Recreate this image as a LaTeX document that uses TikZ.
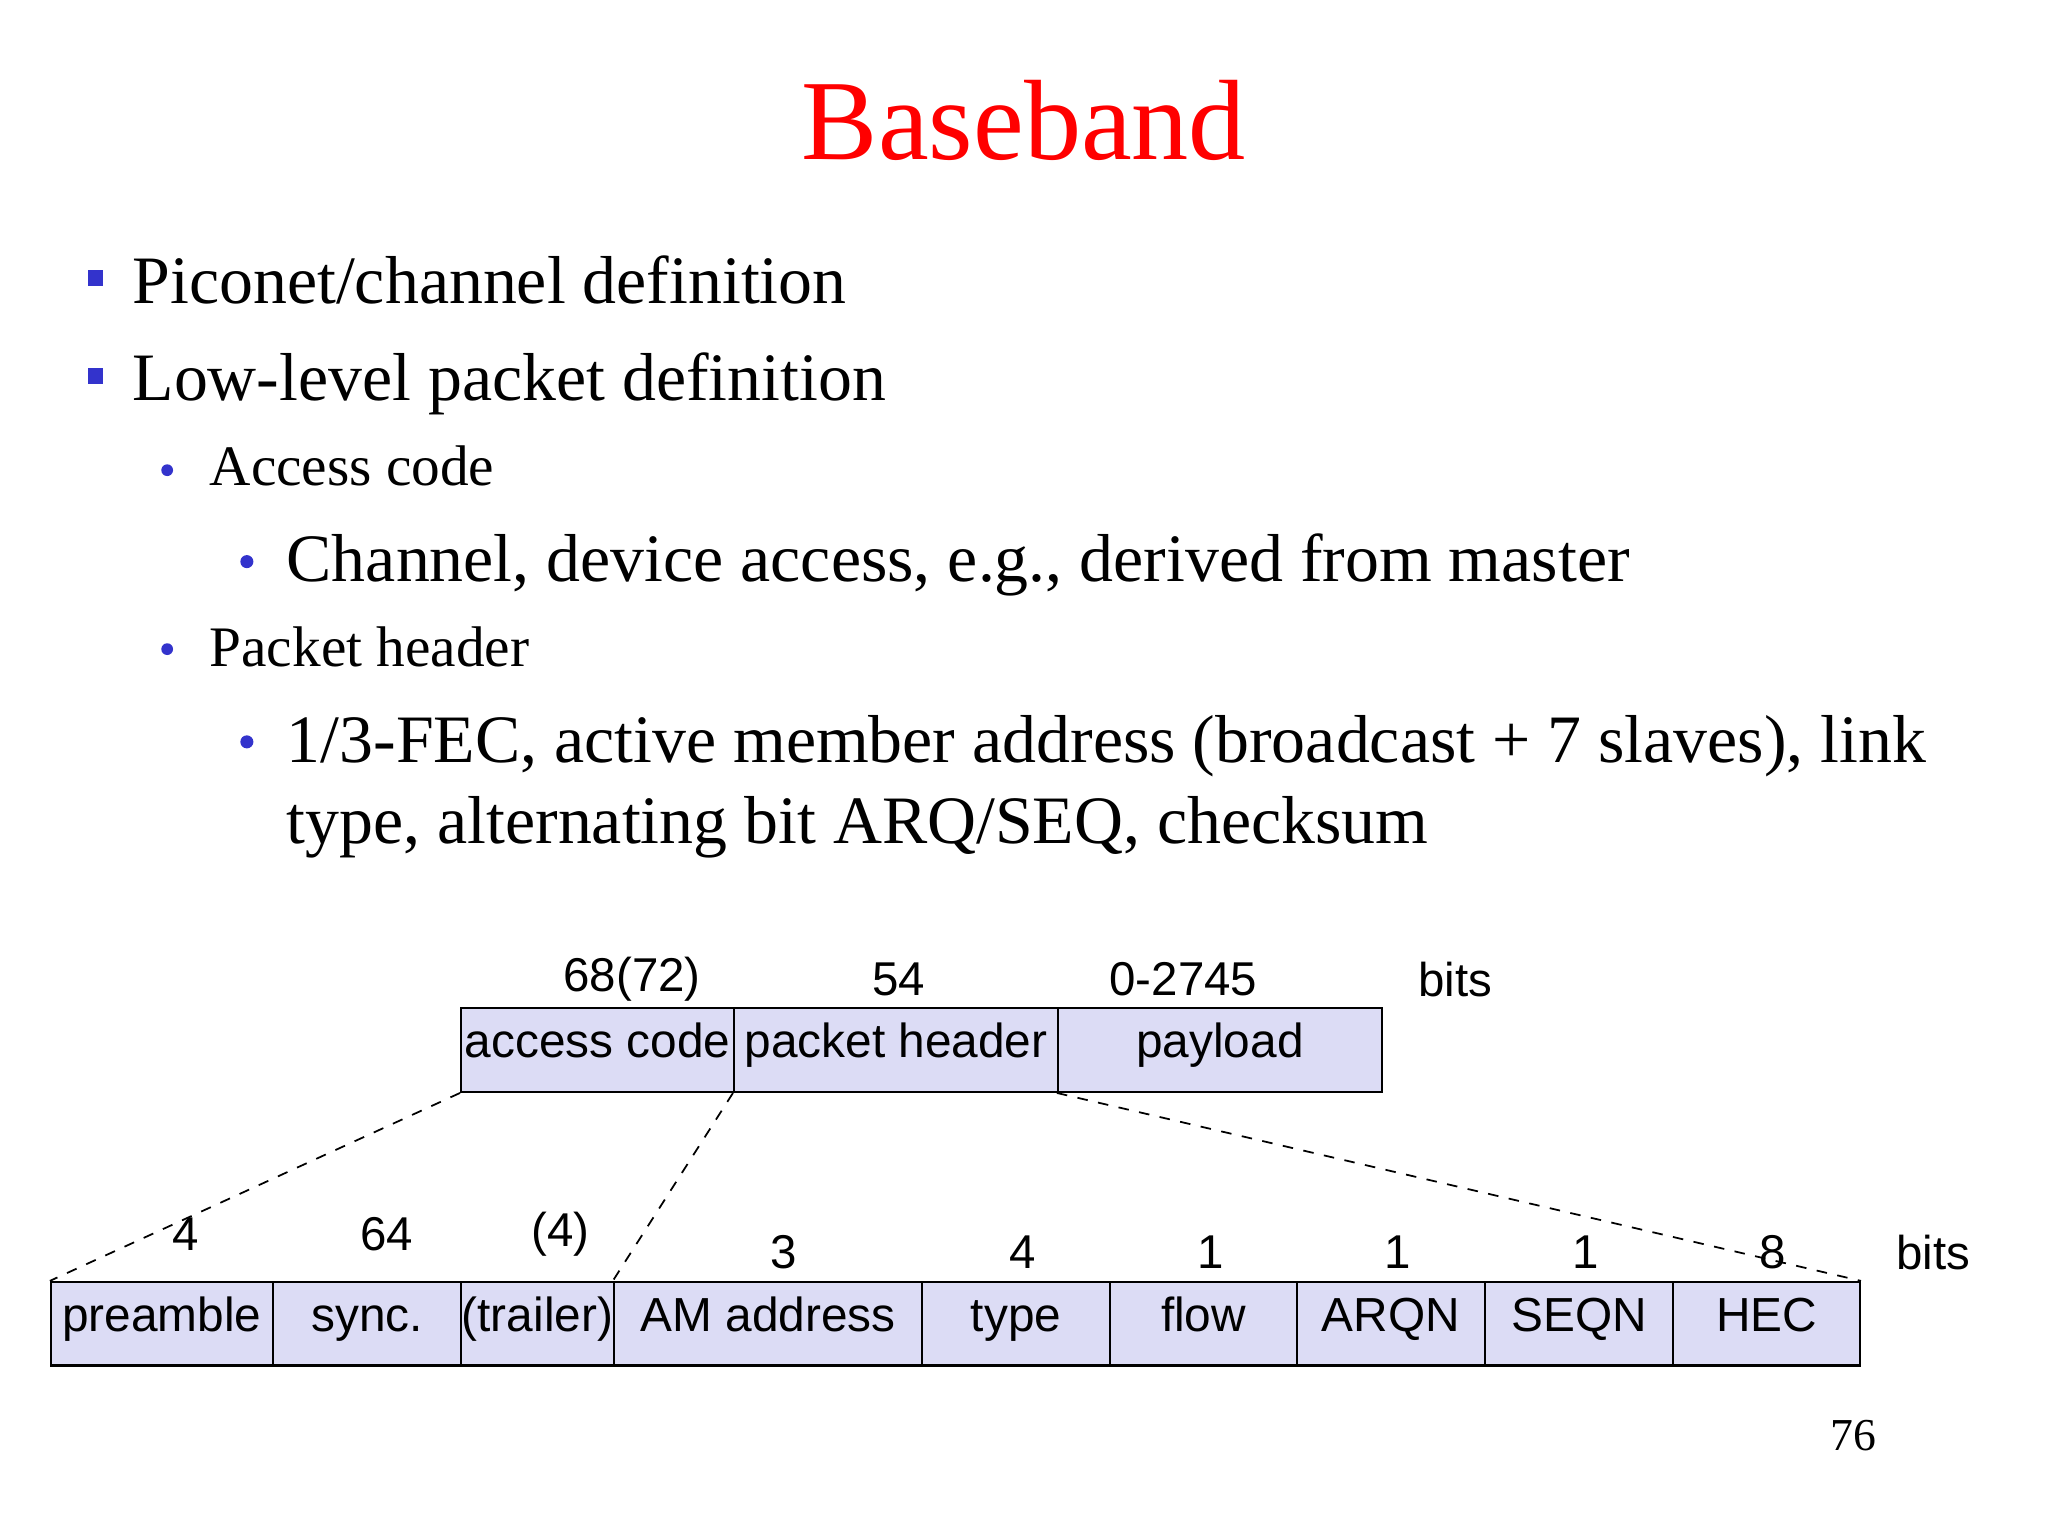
\documentclass[tikz,border=0pt]{standalone}
\usepackage{fontspec}
\setmainfont{Liberation Serif}
\newfontfamily\arialf{Liberation Sans}
\definecolor{bul}{RGB}{51,51,204}
\definecolor{boxfill}{RGB}{220,220,245}
\begin{document}
\begin{tikzpicture}[x=0.013061cm,y=-0.013061cm,
  fld/.style={draw=black,fill=boxfill,line width=0.6pt,minimum height=64*0.013061cm,inner sep=0pt,text height=1.4ex,text depth=0.5ex,font=\arialf\fontsize{13.6}{16}\selectfont},
  num/.style={font=\arialf\fontsize{13.5}{16}\selectfont,inner sep=0pt},
  txt/.style={anchor=base west,inner sep=0pt},
  zoomline/.style={dashed,line width=0.5pt}]
\useasboundingbox (0,0) rectangle (1568,1176);
\node[text=red,font=\fontsize{32.5}{38}\selectfont] (title) at (784,92) {Baseband};
\node[txt,font=\fontsize{19.3}{23}\selectfont] (l1) at (101,232) {Piconet/channel definition};
\node[fill=bul,minimum size=12*0.013061cm,inner sep=0pt] (b1) at (73,213) {};
\node[txt,font=\fontsize{19.3}{23}\selectfont] (l2) at (101,307) {Low-level packet definition};
\node[fill=bul,minimum size=12*0.013061cm,inner sep=0pt] (b2) at (73,288) {};
\node[txt,font=\fontsize{16.3}{20}\selectfont] (l3) at (160,372) {Access code};
\node[circle,fill=bul,minimum size=9*0.013061cm,inner sep=0pt] (b3) at (128,360) {};
\node[txt,font=\fontsize{19.3}{23}\selectfont] (l4) at (219,445) {Channel, device access, e.g., derived from master};
\node[circle,fill=bul,minimum size=10*0.013061cm,inner sep=0pt] (b4) at (189,430) {};
\node[txt,font=\fontsize{16.3}{20}\selectfont] (l5) at (160,510) {Packet header};
\node[circle,fill=bul,minimum size=9*0.013061cm,inner sep=0pt] (b5) at (128,497) {};
\node[txt,font=\fontsize{19.3}{23}\selectfont] (l6) at (219,584) {1/3-FEC, active member address (broadcast + 7 slaves), link};
\node[circle,fill=bul,minimum size=10*0.013061cm,inner sep=0pt] (b6) at (189,568) {};
\node[txt,font=\fontsize{19.3}{23}\selectfont] (l7) at (219,646) {type, alternating bit ARQ/SEQ, checksum};
% top row
\node[fld,minimum width=209*0.013061cm] (ac) at (457.5,804) {access code};
\node[fld,minimum width=248*0.013061cm] (ph) at (686,804) {packet header};
\node[fld,minimum width=248*0.013061cm] (pl) at (934,804) {payload};
\node[num] (n1) at (484,750) {68(72)};
\node[num] (n2) at (688,750) {54};
\node[num] (n3) at (906,750) {0-2745};
\node[num] (n4) at (1114,750) {bits};
% bottom row
\node[fld,minimum width=170*0.013061cm] (pre) at (124,1013.5) {preamble};
\node[fld,minimum width=144*0.013061cm] (syn) at (281,1013.5) {sync.};
\node[fld,minimum width=117*0.013061cm] (tr) at (411.5,1013.5) {(trailer)};
\node[fld,minimum width=236*0.013061cm] (am) at (588,1013.5) {AM address};
\node[fld,minimum width=144*0.013061cm] (ty) at (778,1013.5) {type};
\node[fld,minimum width=143*0.013061cm] (fl) at (921.5,1013.5) {flow};
\node[fld,minimum width=144*0.013061cm] (ar) at (1065,1013.5) {ARQN};
\node[fld,minimum width=144*0.013061cm] (se) at (1209,1013.5) {SEQN};
\node[fld,minimum width=143*0.013061cm] (he) at (1352.5,1013.5) {HEC};
\draw[zoomline] (ac.south west) -- (pre.north west);
\draw[zoomline] (ph.south west) -- (am.north west);
\draw[zoomline] (pl.south west) -- (he.north east);
\node[num] (m1) at (142,945) {4};
\node[num] (m2) at (296,945) {64};
\node[num] (m3) at (429,945) {(4)};
\node[num] (m4) at (600,959) {3};
\node[num] (m5) at (783,959) {4};
\node[num] (m6) at (927,959) {1};
\node[num] (m7) at (1070,959) {1};
\node[num] (m8) at (1214,959) {1};
\node[num] (m9) at (1357,959) {8};
\node[num] (m10) at (1480,959) {bits};
\node[font=\fontsize{13}{16}\selectfont] (pg) at (1419,1099) {76};
\end{tikzpicture}
\end{document}
